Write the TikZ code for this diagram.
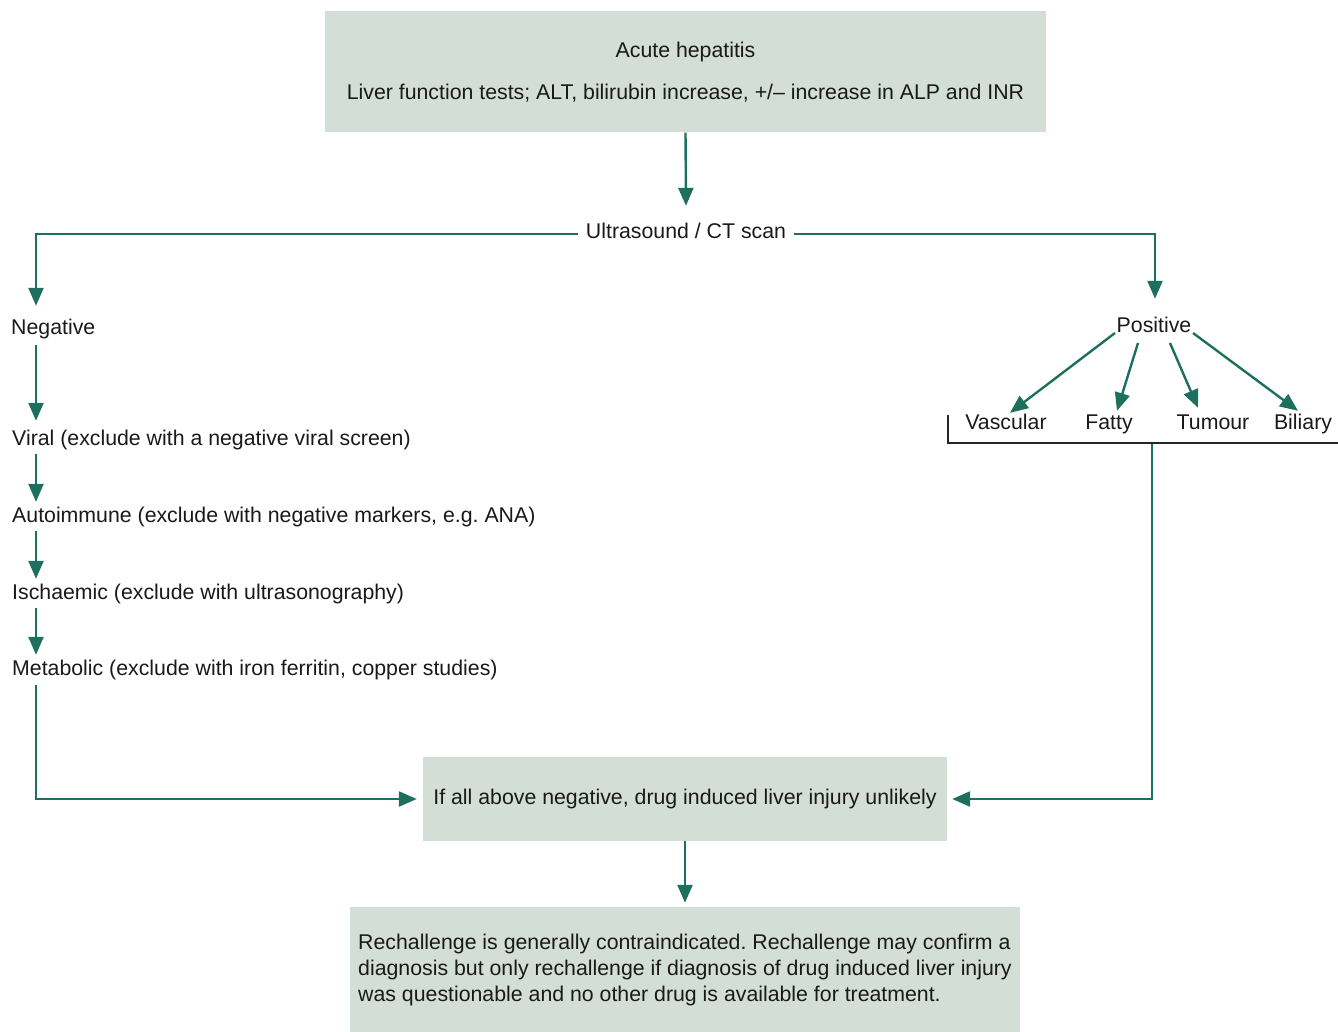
\documentclass[tikz,border=0pt]{standalone}
\usepackage{fontspec}
\setmainfont{Liberation Sans}
\usetikzlibrary{arrows.meta,calc}
\definecolor{boxfill}{RGB}{211,222,214}
\definecolor{arrgreen}{RGB}{30,112,94}
\tikzset{
  every node/.style={font=\fontsize{21.3}{26}\selectfont\frenchspacing, text=black!90},
  arr/.style={draw=arrgreen, line width=2.4pt, -{Triangle[length=18pt,width=15pt]}},
  greybox/.style={fill=boxfill, draw=none},
  lbl/.style={inner xsep=2pt, inner ysep=5pt, text height=15pt, text depth=5pt},
}
\begin{document}
\begin{tikzpicture}[x=1pt,y=-1pt]
\useasboundingbox (0,0) rectangle (1338,1032);
% boxes
\node[greybox, minimum width=721pt, minimum height=121pt, align=center, yshift=-1.5pt] (top) at (685.5,70.5)
  {Acute hepatitis\\[16pt]Liver function tests; ALT, bilirubin increase, +/-- increase in ALP and INR};
\node[greybox, minimum width=524pt, minimum height=84pt] (mid) at (685,799)
  {If all above negative, drug induced liver injury unlikely};
\node[greybox, minimum width=670pt, minimum height=125pt, align=left, inner xsep=6pt] (bot) at (685,969.5)
  {Rechallenge is generally contraindicated. Rechallenge may confirm a\\diagnosis but only rechallenge if diagnosis of drug induced liver injury\\was questionable and no other drug is available for treatment.};
% labels
\node[lbl, inner xsep=8pt] (us) at (686,234) {Ultrasound / CT scan};
\node[lbl, anchor=west] (neg) at (9,329) {Negative};
\node[lbl, anchor=west] (viral) at (10,440) {Viral (exclude with a negative viral screen)};
\node[lbl, anchor=west] (auto) at (10,517) {Autoimmune (exclude with negative markers, e.g. ANA)};
\node[lbl, anchor=west] (isch) at (10,594) {Ischaemic (exclude with ultrasonography)};
\node[lbl, anchor=west] (meta) at (10,670) {Metabolic (exclude with iron ferritin, copper studies)};
\node[lbl, inner xsep=1pt, inner ysep=3pt] (pos) at (1154,327) {Positive};
\node[lbl] (vasc) at (1006,424) {Vascular};
\node[lbl] (fatty) at (1109,424) {Fatty};
\node[lbl] (tum) at (1213,424) {Tumour};
\node[lbl] (bil) at (1303,424) {Biliary};
\coordinate (colx) at (36,0);
\coordinate (brk) at (948,415);
\coordinate (brkend) at (1338,443);
\coordinate (drop) at (1152,443);
% connectors
\draw[arr] (top.south) -- ([yshift=13pt]us.north);
\draw[arr, shorten >=8pt] (us.west) -| (neg.north -| colx);
\draw[arr, shorten >=15pt] (us.east) -| ([xshift=1pt]pos.north);
\draw[arr, shorten <=1pt, shorten >=4pt] (neg.south -| colx) -- (viral.north -| colx);
\draw[arr, shorten <=-1pt] (viral.south -| colx) -- (auto.north -| colx);
\draw[arr, shorten <=-1pt] (auto.south -| colx) -- (isch.north -| colx);
\draw[arr, shorten <=-1pt] (isch.south -| colx) -- (meta.north -| colx);
\draw[arr, shorten >=6pt] (meta.south -| colx) |- (mid.west);
\draw[arr, shorten >=5pt] (drop) |- (mid.east);
\draw[arr, shorten >=4pt] (mid.south) -- (bot.north);
% positive branches
\draw[arr] ([xshift=-39pt,yshift=-6pt]pos.center) -- ([xshift=4pt,yshift=-4pt]vasc.north);
\draw[arr] ([xshift=-16pt,yshift=-16pt]pos.center) -- ([xshift=8pt,yshift=-2pt]fatty.north);
\draw[arr] ([xshift=16pt,yshift=-16pt]pos.center) -- ([xshift=-15pt,yshift=1pt]tum.north);
\draw[arr] ([xshift=39pt,yshift=-6pt]pos.center) -- ([xshift=-5pt,yshift=-2pt]bil.north);
% bracket
\draw[black!85, line width=1.2pt] (brk) |- (brkend);
\end{tikzpicture}
\end{document}
